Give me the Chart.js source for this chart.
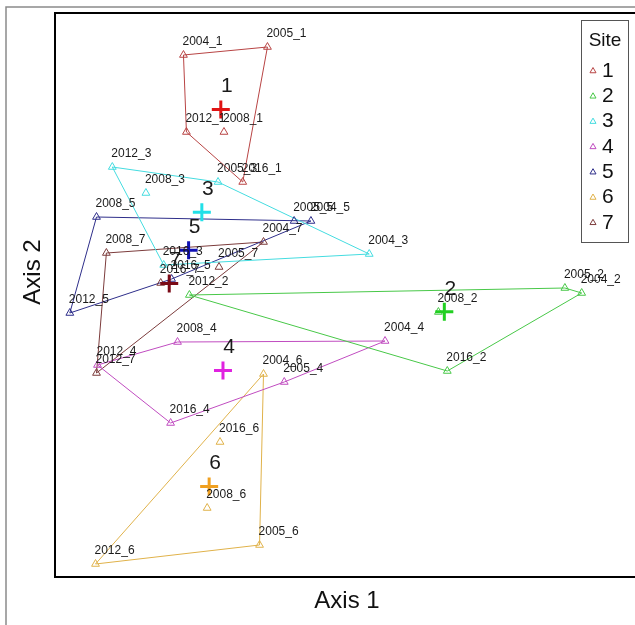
<!DOCTYPE html>
<html>
<head>
<meta charset="utf-8">
<title>Site ordination</title>
<script src="https://cdn.jsdelivr.net/npm/chart.js@4.4.0/dist/chart.umd.min.js"></script>
<style>
  html, body { margin: 0; padding: 0; background: #fff; overflow: hidden; }
  canvas { display: block; }
</style>
</head>
<body>
<canvas id="ord" width="650" height="625"></canvas>
<script>
// ordination scores (axis 1 / axis 2), one sample per year at each site
const years = ['2004', '2005', '2008', '2012', '2016'];

const site1X = [-0.725, -0.300, -0.520, -0.710, -0.425];
const site1Y = [1.225, 1.265, 0.840, 0.840, 0.590];
const site2X = [1.290, 1.205, 0.565, -0.695, 0.610];
const site2Y = [0.035, 0.060, -0.060, 0.025, -0.355];
const site3X = [0.215, -0.550, -0.915, -1.085, -0.825];
const site3Y = [0.230, 0.590, 0.535, 0.665, 0.175];
const site4X = [0.295, -0.215, -0.755, -1.160, -0.790];
const site4Y = [-0.205, -0.410, -0.210, -0.325, -0.615];
const site5X = [-0.080, -0.165, -1.165, -1.300, -0.785];
const site5Y = [0.395, 0.395, 0.415, -0.065, 0.105];
const site6X = [-0.320, -0.340, -0.605, -1.170, -0.540];
const site6Y = [-0.370, -1.225, -1.040, -1.320, -0.710];
const site7X = [-0.320, -0.545, -1.115, -1.165, -0.840];
const site7Y = [0.290, 0.165, 0.235, -0.365, 0.085];

const siteNames = ['1', '2', '3', '4', '5', '6', '7'];
const siteColors = ['#B84444', '#48C848', '#44DCE0', '#C04CC0', '#2E2E8A', '#E0B24A', '#7C3C3C'];
const centroidColors = ['#E01414', '#22D022', '#22E0E8', '#E022E0', '#1010B4', '#F0A020', '#7A0A16'];

const allX = [site1X, site2X, site3X, site4X, site5X, site6X, site7X];
const allY = [site1Y, site2Y, site3Y, site4Y, site5Y, site6Y, site7Y];

const FONT = '"Liberation Sans", Arial, sans-serif';

// convex hull (monotone chain), returned closed
function hull(pts) {
    const p = pts.slice().sort((a, b) => a.x - b.x || a.y - b.y);
    const cross = (o, a, b) => (a.x - o.x) * (b.y - o.y) - (a.y - o.y) * (b.x - o.x);
    const lower = [], upper = [];
    p.forEach(q => {
        while (lower.length >= 2 && cross(lower[lower.length - 2], lower[lower.length - 1], q) <= 0) lower.pop();
        lower.push(q);
    });
    p.slice().reverse().forEach(q => {
        while (upper.length >= 2 && cross(upper[upper.length - 2], upper[upper.length - 1], q) <= 0) upper.pop();
        upper.push(q);
    });
    upper.pop(); lower.pop();
    const h = lower.concat(upper);
    h.push(h[0]);
    return h;
}

const datasets = [];
siteNames.forEach((s, i) => {
    const pts = years.map((yr, j) => ({ x: allX[i][j], y: allY[i][j], label: yr + '_' + s }));
    const cx = allX[i].reduce((a, b) => a + b, 0) / allX[i].length;
    const cy = allY[i].reduce((a, b) => a + b, 0) / allY[i].length;

    datasets.push({
        data: hull(pts),
        showLine: true,
        borderColor: siteColors[i],
        borderWidth: 1,
        pointRadius: 0,
        tension: 0,
        fill: false,
        order: 3
    });
    datasets.push({
        data: pts,
        pointStyle: 'triangle',
        pointRadius: 4.5,
        borderWidth: 1,
        borderColor: siteColors[i],
        backgroundColor: 'rgba(0,0,0,0)',
        showLine: false,
        pointLabels: true,
        order: 2
    });
    datasets.push({
        data: [{ x: cx, y: cy, label: s }],
        pointStyle: 'cross',
        pointRadius: 9,
        borderWidth: 3,
        borderColor: centroidColors[i],
        showLine: false,
        centroid: true,
        order: 1
    });
});

const decor = {
    id: 'decor',
    beforeDraw(chart) {
        const ctx = chart.ctx;
        ctx.save();
        ctx.strokeStyle = '#8a8a8a';
        ctx.lineWidth = 1.5;
        ctx.beginPath();
        ctx.moveTo(6, 625);
        ctx.lineTo(6, 7);
        ctx.lineTo(650, 7);
        ctx.stroke();
        ctx.restore();
    },
    afterDatasetsDraw(chart) {
        const ctx = chart.ctx;
        const xs = chart.scales.x, ys = chart.scales.y;
        ctx.save();
        ctx.fillStyle = '#1a1a1a';
        chart.data.datasets.forEach(ds => {
            if (ds.pointLabels) {
                ctx.font = '12px ' + FONT;
                ctx.textAlign = 'left';
                ctx.textBaseline = 'middle';
                ds.data.forEach(d => {
                    ctx.fillText(d.label, xs.getPixelForValue(d.x) - 1, ys.getPixelForValue(d.y) - 13);
                });
            } else if (ds.centroid) {
                ctx.font = '21px ' + FONT;
                ctx.textAlign = 'center';
                ctx.textBaseline = 'middle';
                ds.data.forEach(d => {
                    ctx.fillText(d.label, xs.getPixelForValue(d.x) + 6, ys.getPixelForValue(d.y) - 23);
                });
            }
        });
        ctx.restore();
    },
    afterDraw(chart) {
        const ctx = chart.ctx;
        const a = chart.chartArea;
        ctx.save();
        // plot frame
        ctx.strokeStyle = '#000';
        ctx.lineWidth = 2;
        ctx.strokeRect(a.left, a.top, a.right - a.left, a.bottom - a.top);

        // axis titles
        ctx.fillStyle = '#111';
        ctx.font = '24px ' + FONT;
        ctx.textAlign = 'center';
        ctx.textBaseline = 'middle';
        ctx.fillText('Axis 1', 347, 601);
        ctx.save();
        ctx.translate(33, 272);
        ctx.rotate(-Math.PI / 2);
        ctx.fillText('Axis 2', 0, 0);
        ctx.restore();

        // legend
        ctx.fillStyle = '#fff';
        ctx.fillRect(581, 20, 47, 222);
        ctx.strokeStyle = '#555';
        ctx.lineWidth = 1;
        ctx.strokeRect(581.5, 20.5, 47, 222);
        ctx.fillStyle = '#111';
        ctx.font = '19px ' + FONT;
        ctx.textAlign = 'center';
        ctx.fillText('Site', 605, 41);
        ctx.font = '21px ' + FONT;
        ctx.textAlign = 'left';
        siteNames.forEach((s, i) => {
            const y = 71 + i * 25.3;
            ctx.fillStyle = '#fff';
            ctx.strokeStyle = siteColors[i];
            Chart.helpers.drawPoint(ctx, { pointStyle: 'triangle', radius: 3.5, borderWidth: 1 }, 593, y);
            ctx.fillStyle = '#111';
            ctx.fillText(s, 602, y);
        });
        ctx.restore();
    }
};

new Chart(document.getElementById('ord'), {
    type: 'scatter',
    data: { datasets: datasets },
    options: {
        responsive: false,
        animation: false,
        layout: { padding: { left: 55, top: 13, right: 5, bottom: 48 } },
        scales: {
            x: { type: 'linear', display: false, min: -1.375, max: 1.575 },
            y: { type: 'linear', display: false, min: -1.385, max: 1.435 }
        },
        plugins: {
            legend: { display: false },
            tooltip: { enabled: false }
        }
    },
    plugins: [decor]
});
</script>
</body>
</html>
